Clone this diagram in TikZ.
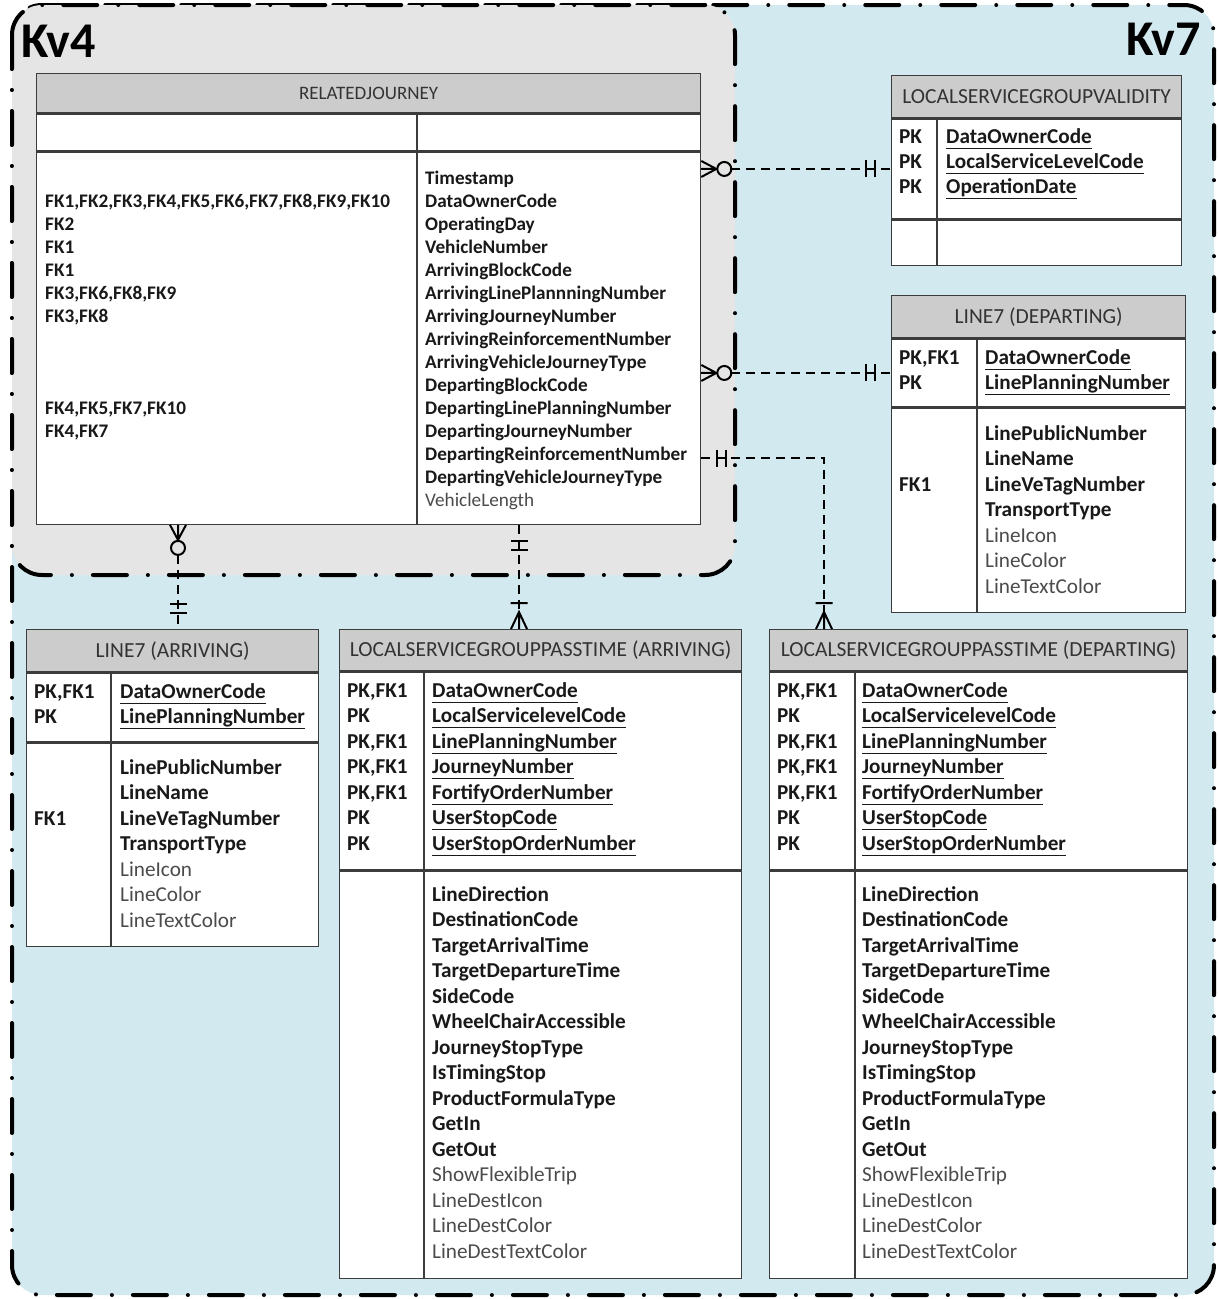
\documentclass[tikz,border=0pt]{standalone}
\usepackage{fontspec}
\setmainfont{Carlito}
\usetikzlibrary{positioning, calc}

\definecolor{kvblue}{RGB}{210,233,239}
\definecolor{kvgray}{RGB}{229,229,229}
\definecolor{headgray}{RGB}{204,204,204}
\definecolor{rimgray}{RGB}{60,60,60}
\definecolor{optgray}{RGB}{75,75,75}

\newcommand{\kf}[1]{\underline{#1\vphantom{g}}}
\newcommand{\nf}[1]{{\mdseries\color{optgray}#1}}

\tikzset{
  zone/.style={line width=4pt, line cap=round, rounded corners=30pt, dash pattern=on 34pt off 21pt on 0pt off 21pt},
  kvlabel/.style={inner sep=0pt, font=\fontsize{50}{60}\selectfont\bfseries},
  rim/.style={draw=rimgray, line width=1.3pt},
  tblhead/.style={rim, fill=headgray, inner sep=0pt, anchor=north west, text=black!80, font=\fontsize{21.5}{25}\selectfont},
  tblsec/.style={rim, fill=white, inner sep=0pt, anchor=north},
  fld/.style={anchor=north west, inner sep=0pt, align=left, text=black!90, font=\fontsize{21.2}{25.5}\selectfont\bfseries},
  rjfld/.style={fld, font=\fontsize{19.2}{23}\selectfont\bfseries},
  link/.style={line width=2.2pt, dash pattern=on 9pt off 6pt},
  sym/.style={line width=2pt, solid},
  zmany/.pic={\draw[sym] (0,-8) -- (15,0) -- (0,8) (0,0) -- (15,0); \draw[sym, fill=kvgray] (23,0) circle (7pt);},
  oneone/.pic={\draw[sym] (16,-8.5) -- (16,8.5) (25,-8.5) -- (25,8.5);},
  onemany/.pic={\draw[sym] (0,-8) -- (17,0) -- (0,8) (0,0) -- (17,0) (26,-8.5) -- (26,8.5);},
}

\begin{document}
\begin{tikzpicture}[x=1pt, y=-1pt]
\useasboundingbox (0,0) rectangle (1218,1299);

% the two zones
\draw[zone, fill=kvblue] (12,5) rectangle (1214,1295);
\draw[zone, fill=kvgray] (12,5) rectangle (735,575);
\node[kvlabel, anchor=base west] (kv4) at (21,57) {Kv4};
\node[kvlabel, anchor=base east] (kv7) at (1201,55) {Kv7};

% RELATEDJOURNEY
\node[tblhead, minimum width=664, minimum height=39, font=\fontsize{19}{22}\selectfont] (rjh) at (36,73) {RELATEDJOURNEY};
\node[tblsec, minimum width=664, minimum height=37, below=0pt of rjh] (rjk) {};
\node[tblsec, minimum width=664, minimum height=372, below=0pt of rjk] (rja) {};
\draw[rim] ([xshift=381pt]rjk.north west) -- ([xshift=381pt]rja.south west);
\node[rjfld] (rjfk) at (45,191) {\strut FK1,FK2,FK3,FK4,FK5,FK6,FK7,FK8,FK9,FK10\\FK2\\FK1\\FK1\\FK3,FK6,FK8,FK9\\FK3,FK8\\\mbox{}\\\mbox{}\\\mbox{}\\FK4,FK5,FK7,FK10\\FK4,FK7};
\node[rjfld] (rjatt) at (425,168) {\strut Timestamp\\DataOwnerCode\\OperatingDay\\VehicleNumber\\ArrivingBlockCode\\ArrivingLinePlannningNumber\\ArrivingJourneyNumber\\ArrivingReinforcementNumber\\ArrivingVehicleJourneyType\\DepartingBlockCode\\DepartingLinePlanningNumber\\DepartingJourneyNumber\\DepartingReinforcementNumber\\DepartingVehicleJourneyType\\\nf{VehicleLength}};

% LOCALSERVICEGROUPVALIDITY
\node[tblhead, minimum width=290, minimum height=42] (lsgvh) at (891,75) {LOCALSERVICEGROUPVALIDITY};
\node[tblsec, minimum width=290, minimum height=100, below=0pt of lsgvh] (lsgvk) {};
\node[tblsec, minimum width=290, minimum height=45, below=0pt of lsgvk] (lsgva) {};
\draw[rim] ([xshift=46pt]lsgvk.north west) -- ([xshift=46pt]lsgva.south west);
\node[fld, font=\fontsize{21.2}{25}\selectfont\bfseries] (lsgvpk) at (899,126) {\strut PK\\PK\\PK};
\node[fld, font=\fontsize{21.2}{25}\selectfont\bfseries] (lsgvkey) at (946,126) {\strut\kf{DataOwnerCode}\\\kf{LocalServiceLevelCode}\\\kf{OperationDate}};

% LINE7 (DEPARTING)
\node[tblhead, minimum width=294, minimum height=42] (l7dh) at (891,295) {LINE7 (DEPARTING)};
\node[tblsec, minimum width=294, minimum height=68, below=0pt of l7dh] (l7dk) {};
\node[tblsec, minimum width=294, minimum height=204, below=0pt of l7dk] (l7da) {};
\draw[rim] ([xshift=86pt]l7dk.north west) -- ([xshift=86pt]l7da.south west);
\node[fld] (l7dpk) at (899,346) {\strut PK,FK1\\PK};
\node[fld] (l7dkey) at (985,346) {\strut\kf{DataOwnerCode}\\\kf{LinePlanningNumber}};
\node[fld] (l7dfk) at (899,422) {\strut\mbox{}\\\mbox{}\\FK1};
\node[fld] (l7datt) at (985,422) {\strut LinePublicNumber\\LineName\\LineVeTagNumber\\TransportType\\\nf{LineIcon}\\\nf{LineColor}\\\nf{LineTextColor}};

% LINE7 (ARRIVING)
\node[tblhead, minimum width=292, minimum height=42] (l7ah) at (26,629) {LINE7 (ARRIVING)};
\node[tblsec, minimum width=292, minimum height=69, below=0pt of l7ah] (l7ak) {};
\node[tblsec, minimum width=292, minimum height=203, below=0pt of l7ak] (l7aa) {};
\draw[rim] ([xshift=85pt]l7ak.north west) -- ([xshift=85pt]l7aa.south west);
\node[fld] (l7apk) at (34,680) {\strut PK,FK1\\PK};
\node[fld] (l7akey) at (120,680) {\strut\kf{DataOwnerCode}\\\kf{LinePlanningNumber}};
\node[fld] (l7afk) at (34,756) {\strut\mbox{}\\\mbox{}\\FK1};
\node[fld] (l7aatt) at (120,756) {\strut LinePublicNumber\\LineName\\LineVeTagNumber\\TransportType\\\nf{LineIcon}\\\nf{LineColor}\\\nf{LineTextColor}};

% LOCALSERVICEGROUPPASSTIME (ARRIVING)
\node[tblhead, minimum width=402, minimum height=41] (lpah) at (339,629) {LOCALSERVICEGROUPPASSTIME (ARRIVING)};
\node[tblsec, minimum width=402, minimum height=198, below=0pt of lpah] (lpak) {};
\node[tblsec, minimum width=402, minimum height=407, below=0pt of lpak] (lpaa) {};
\draw[rim] ([xshift=85pt]lpak.north west) -- ([xshift=85pt]lpaa.south west);
\node[fld] (lpapk) at (347,679) {\strut PK,FK1\\PK\\PK,FK1\\PK,FK1\\PK,FK1\\PK\\PK};
\node[fld] (lpakey) at (432,679) {\strut\kf{DataOwnerCode}\\\kf{LocalServicelevelCode}\\\kf{LinePlanningNumber}\\\kf{JourneyNumber}\\\kf{FortifyOrderNumber}\\\kf{UserStopCode}\\\kf{UserStopOrderNumber}};
\node[fld] (lpaatt) at (432,883) {\strut LineDirection\\DestinationCode\\TargetArrivalTime\\TargetDepartureTime\\SideCode\\WheelChairAccessible\\JourneyStopType\\IsTimingStop\\ProductFormulaType\\GetIn\\GetOut\\\nf{ShowFlexibleTrip}\\\nf{LineDestIcon}\\\nf{LineDestColor}\\\nf{LineDestTextColor}};

% LOCALSERVICEGROUPPASSTIME (DEPARTING)
\node[tblhead, minimum width=418, minimum height=41] (lpdh) at (769,629) {LOCALSERVICEGROUPPASSTIME (DEPARTING)};
\node[tblsec, minimum width=418, minimum height=198, below=0pt of lpdh] (lpdk) {};
\node[tblsec, minimum width=418, minimum height=407, below=0pt of lpdk] (lpda) {};
\draw[rim] ([xshift=86pt]lpdk.north west) -- ([xshift=86pt]lpda.south west);
\node[fld] (lpdpk) at (777,679) {\strut PK,FK1\\PK\\PK,FK1\\PK,FK1\\PK,FK1\\PK\\PK};
\node[fld] (lpdkey) at (862,679) {\strut\kf{DataOwnerCode}\\\kf{LocalServicelevelCode}\\\kf{LinePlanningNumber}\\\kf{JourneyNumber}\\\kf{FortifyOrderNumber}\\\kf{UserStopCode}\\\kf{UserStopOrderNumber}};
\node[fld] (lpdatt) at (862,883) {\strut LineDirection\\DestinationCode\\TargetArrivalTime\\TargetDepartureTime\\SideCode\\WheelChairAccessible\\JourneyStopType\\IsTimingStop\\ProductFormulaType\\GetIn\\GetOut\\\nf{ShowFlexibleTrip}\\\nf{LineDestIcon}\\\nf{LineDestColor}\\\nf{LineDestTextColor}};

% relationships
\coordinate (bend) at (824,458);
\coordinate (l7aleg) at (178,0);
\coordinate (lpaleg) at (519,0);
\draw[link] (rja.east |- lsgvk.west) -- (lsgvk.west);
\draw[link] (rja.east |- l7dk.west) -- (l7dk.west);
\draw[link] (rja.east |- bend) -| (lpdh.north -| bend);
\draw[link] (rja.south -| l7aleg) -- (l7ah.north -| l7aleg);
\draw[link] (rja.south -| lpaleg) -- (lpah.north -| lpaleg);

\pic at (rja.east |- lsgvk.west) {zmany};
\pic[rotate=180] at (lsgvk.west) {oneone};
\pic at (rja.east |- l7dk.west) {zmany};
\pic[rotate=180] at (l7dk.west) {oneone};
\pic at (rja.east |- bend) {oneone};
\pic[rotate=90] at (lpdh.north -| bend) {onemany};
\pic[rotate=-90] at (rja.south -| l7aleg) {zmany};
\pic[rotate=90] at (l7ah.north -| l7aleg) {oneone};
\pic[rotate=-90] at (rja.south -| lpaleg) {oneone};
\pic[rotate=90] at (lpah.north -| lpaleg) {onemany};
\end{tikzpicture}
\end{document}
